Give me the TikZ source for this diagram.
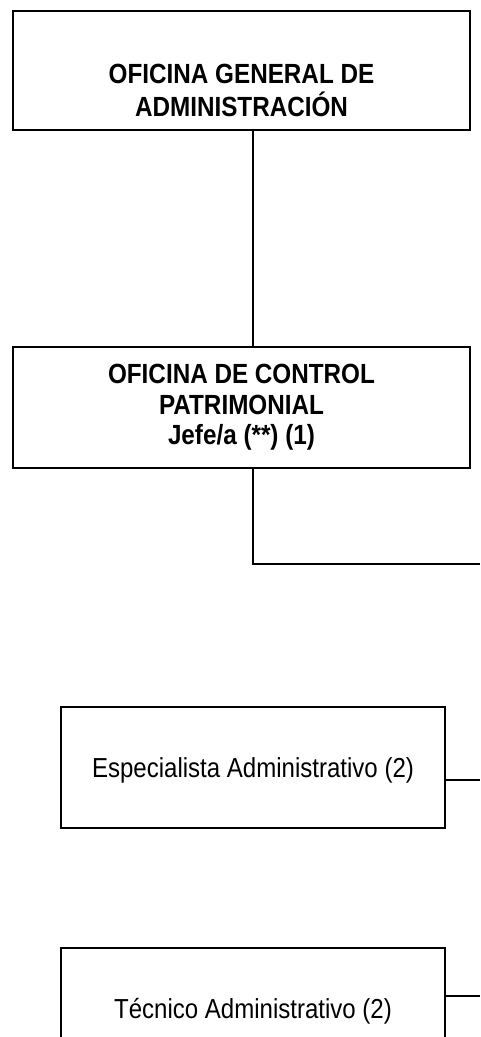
\documentclass[tikz,border=0pt]{standalone}
\usepackage{fontspec}
\setmainfont{Liberation Sans}[FakeStretch=0.875]
\begin{document}
\begin{tikzpicture}[x=0.75pt,y=-0.75pt,
  orgbox/.style={draw, line width=1.6pt, inner sep=0pt, outer sep=0pt, fill=white},
  wide/.style={minimum width=342.75pt, minimum height=#1},
  narrow/.style={minimum width=288pt, minimum height=90.75pt},
  boldtop/.style={font=\bfseries\fontsize{20.8pt}{25.1pt}\selectfont, align=center, inner sep=0pt},
  boldmid/.style={font=\bfseries\fontsize{20.8pt}{22.9pt}\selectfont, align=center},
  regtxt/.style={font=\fontsize{20.6pt}{24pt}\selectfont, text depth=0pt},
  conn/.style={line width=1.6pt}]
\useasboundingbox (0,0) rectangle (480,1037);
\fill[white] (0,0) rectangle (480,1037);
% boxes
\node[orgbox, wide=89.25pt] (oga) at (241.5,70.5) {};
\node[boldtop] (ogat) at (241.5,90.5) {OFICINA GENERAL DE\\ADMINISTRACIÓN};
\node[orgbox, wide=90.75pt, boldmid] (ocp) at (241.5,407.5) {OFICINA DE CONTROL\\PATRIMONIAL\\Jefe/a (**) (1)};
\node[orgbox, narrow, regtxt] (esp) at (253,767.5) {Especialista Administrativo (2)};
\node[orgbox, narrow, regtxt] (tec) at (253,1008.5) {Técnico Administrativo (2)};
% connectors
\coordinate (vx) at (253,0);
\coordinate (r1) at (480,564);
\coordinate (r2) at (480,780);
\coordinate (r3) at (480,996);
\draw[conn] (oga.south -| vx) -- (ocp.north -| vx);
\draw[conn] (ocp.south -| vx) |- (r1);
\draw[conn] (esp.east |- r2) -- (r2);
\draw[conn] (tec.east |- r3) -- (r3);
\end{tikzpicture}
\end{document}
